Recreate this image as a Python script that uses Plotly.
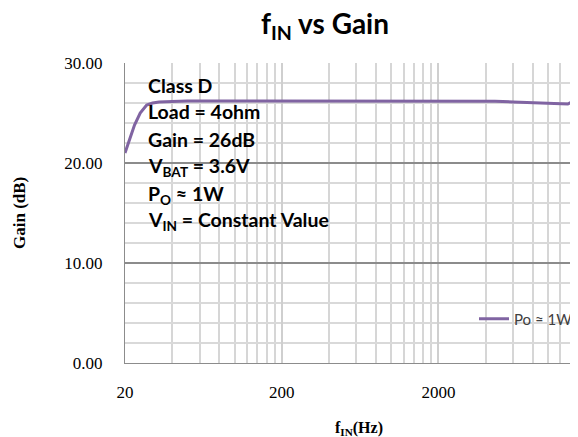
import math
import plotly.graph_objects as go

# ---- data ----
freq_hz = [20, 23, 25, 27.5, 30, 33, 40, 50, 70, 100, 200, 500, 1000, 2000, 3000,
           4000, 4600, 6000, 8000, 10000, 12000, 13400, 13800, 14300, 15100, 16000]
gain_db = [21.0, 23.8, 25.0, 25.8, 26.0, 26.1, 26.15, 26.2, 26.2, 26.2, 26.2, 26.2,
           26.2, 26.2, 26.2, 26.2, 26.18, 26.1, 26.05, 26.0, 25.95, 25.9, 26.0,
           25.9, 25.5, 25.3]
series_name = "Po \u2248 1W"
x_major_ticks = [20, 200, 2000, 20000]
x_tick_labels = ["20", "200", "2000", "20000"]
y_ticks = [0, 10, 20, 30]
y_tick_labels = ["0.00", "10.00", "20.00", "30.00"]
info_lines = ["Class D", "Load = 4ohm", "Gain = 26dB", "V<sub>BAT</sub> = 3.6V",
              "P<sub>O</sub> \u2248 1W", "V<sub>IN</sub> = Constant Value"]

minor_x = [m * k for m in x_major_ticks for k in range(2, 10)]

# page body has an 8px margin; work in screen pixels and shift
OFF = 8
W, H = 578 - OFF, 437 - OFF
L, T = 125 - OFF, 63 - OFF
BOT = 363 - OFF
B = H - BOT
pw, ph = W - L, BOT - T
DEC = 156.7  # pixels per decade


def px(xs):
    return (xs - OFF - L) / pw


def py(ys):
    return (BOT - (ys - OFF)) / ph


fig = go.Figure()
fig.add_trace(go.Scatter(x=freq_hz, y=gain_db, mode="lines", name=series_name,
                         line=dict(color="#8064A2", width=3), showlegend=True))

serif = "Liberation Serif"
sans = "Lato"

fig.update_layout(
    width=W, height=H,
    margin=dict(l=L, r=0, t=T, b=B, autoexpand=False),
    paper_bgcolor="white", plot_bgcolor="white",
    title=dict(text="<b>f<sub>IN</sub> vs Gain</b>", xref="container", x=(325 - OFF) / W,
               xanchor="center", yref="container", y=1 - (24 - OFF) / H, yanchor="middle",
               font=dict(family=sans, size=28, color="black")),
    xaxis=dict(type="log", range=[math.log10(20), math.log10(20) + pw / DEC],
               tickvals=x_major_ticks, ticktext=x_tick_labels,
               showgrid=True, gridcolor="#cfcfcf", gridwidth=2,
               showline=True, linecolor="#8c8c8c", linewidth=1,
               ticks="", ticklabelstandoff=14,
               tickfont=dict(family=serif, size=17, color="black"),
               minor=dict(tickvals=minor_x, showgrid=True, gridcolor="#d6d6d6", gridwidth=2),
               zeroline=False),
    yaxis=dict(range=[0, 30], tickvals=y_ticks, ticktext=y_tick_labels,
               showgrid=True, gridcolor="#8c8c8c", gridwidth=1.5,
               showline=True, linecolor="#8c8c8c", linewidth=1,
               ticks="", ticklabelstandoff=18,
               tickfont=dict(family=serif, size=17, color="black"),
               minor=dict(dtick=2, showgrid=True, gridcolor="#d9d9d9", gridwidth=2),
               zeroline=False),
    legend=dict(x=px(474), xanchor="left", y=py(319), yanchor="middle",
                bgcolor="rgba(0,0,0,0)", font=dict(family=sans, size=15, color="#404040")),
)

line_y = [85, 111.7, 139.3, 166.7, 195, 220.7]
for txt, yp in zip(info_lines, line_y):
    fig.add_annotation(text="<b>" + txt + "</b>", xref="paper", yref="paper",
                       x=px(146), y=py(yp), xanchor="left", yanchor="middle",
                       showarrow=False, font=dict(family=sans, size=19.5, color="black"))

fig.add_annotation(text="<b>f<sub>IN</sub>(Hz)</b>", xref="paper", yref="paper",
                   x=px(359), y=py(428), xanchor="center", yanchor="middle",
                   showarrow=False, font=dict(family=serif, size=16, color="black"))
fig.add_annotation(text="<b>Gain (dB)</b>", xref="paper", yref="paper",
                   x=px(19), y=0.5, xanchor="center", yanchor="middle", textangle=-90,
                   showarrow=False, font=dict(family=serif, size=17, color="black"))

fig.write_html("out.html")
